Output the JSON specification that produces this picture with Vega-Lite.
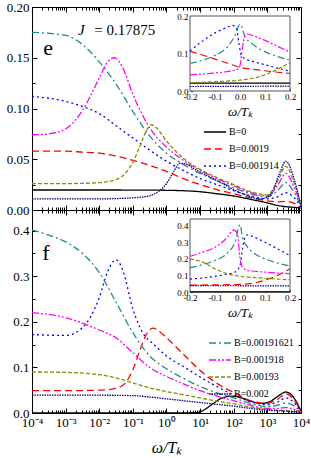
{
  "$schema": "https://vega.github.io/schema/vega-lite/v6.json",
  "padding": {"left": 5, "top": 0, "right": 0, "bottom": 0},
  "background": "white",
  "config": {
    "font": "Liberation Serif",
    "view": {"stroke": "#000", "strokeWidth": 1},
    "axis": {"grid": false, "domain": false, "tickColor": "#000", "tickWidth": 1, "labelColor": "#000", "labelFont": "Liberation Serif", "titleFont": "Liberation Serif", "labelFontSize": 13, "labelFlush": false, "labelOverlap": false, "titleColor": "#000", "titleFontWeight": "normal"},
    "legend": {"labelFont": "Liberation Serif", "labelFontSize": 10, "labelColor": "#000", "symbolType": "stroke", "symbolStrokeWidth": 1.5, "labelOffset": 2, "padding": 0}
  },
  "datasets": {
    "top": [
      {"B":"B=0","w":0.0001,"v":0.0197},{"B":"B=0","w":0.01,"v":0.0197},{"B":"B=0","w":0.316,"v":0.0196},{"B":"B=0","w":1,"v":0.0194},{"B":"B=0","w":3.16,"v":0.019},{"B":"B=0","w":10,"v":0.018},{"B":"B=0","w":31.6,"v":0.016},{"B":"B=0","w":100,"v":0.0138},{"B":"B=0","w":316,"v":0.0105},{"B":"B=0","w":1000,"v":0.007},{"B":"B=0","w":1995,"v":0.0045},{"B":"B=0","w":3548,"v":0.0033},{"B":"B=0","w":6310,"v":0.0026},{"B":"B=0","w":10000,"v":0.002},
      {"B":"B=0.0019","w":0.0001,"v":0.058},{"B":"B=0.0019","w":0.001,"v":0.058},{"B":"B=0.0019","w":0.00316,"v":0.057},{"B":"B=0.0019","w":0.01,"v":0.056},{"B":"B=0.0019","w":0.0316,"v":0.053},{"B":"B=0.0019","w":0.1,"v":0.049},{"B":"B=0.0019","w":0.316,"v":0.044},{"B":"B=0.0019","w":1,"v":0.038},{"B":"B=0.0019","w":3.16,"v":0.031},{"B":"B=0.0019","w":10,"v":0.025},{"B":"B=0.0019","w":31.6,"v":0.02},{"B":"B=0.0019","w":100,"v":0.016},{"B":"B=0.0019","w":316,"v":0.012},{"B":"B=0.0019","w":1000,"v":0.009},{"B":"B=0.0019","w":1995,"v":0.008},{"B":"B=0.0019","w":3548,"v":0.0085},{"B":"B=0.0019","w":6310,"v":0.0065},{"B":"B=0.0019","w":10000,"v":0.002},
      {"B":"B=0.001914","w":0.0001,"v":0.112},{"B":"B=0.001914","w":0.001,"v":0.107},{"B":"B=0.001914","w":0.00316,"v":0.102},{"B":"B=0.001914","w":0.01,"v":0.095},{"B":"B=0.001914","w":0.0316,"v":0.083},{"B":"B=0.001914","w":0.1,"v":0.071},{"B":"B=0.001914","w":0.316,"v":0.059},{"B":"B=0.001914","w":1,"v":0.048},{"B":"B=0.001914","w":3.16,"v":0.039},{"B":"B=0.001914","w":10,"v":0.031},{"B":"B=0.001914","w":31.6,"v":0.025},{"B":"B=0.001914","w":100,"v":0.019},{"B":"B=0.001914","w":316,"v":0.014},{"B":"B=0.001914","w":1000,"v":0.011},{"B":"B=0.001914","w":1995,"v":0.013},{"B":"B=0.001914","w":3548,"v":0.017},{"B":"B=0.001914","w":6310,"v":0.012},{"B":"B=0.001914","w":10000,"v":0.003},
      {"B":"B=0.00191621","w":0.0001,"v":0.175},{"B":"B=0.00191621","w":0.001,"v":0.172},{"B":"B=0.00191621","w":0.00316,"v":0.163},{"B":"B=0.00191621","w":0.01,"v":0.146},{"B":"B=0.00191621","w":0.0316,"v":0.124},{"B":"B=0.00191621","w":0.1,"v":0.097},{"B":"B=0.00191621","w":0.316,"v":0.073},{"B":"B=0.00191621","w":1,"v":0.056},{"B":"B=0.00191621","w":3.16,"v":0.045},{"B":"B=0.00191621","w":10,"v":0.036},{"B":"B=0.00191621","w":31.6,"v":0.029},{"B":"B=0.00191621","w":100,"v":0.022},{"B":"B=0.00191621","w":316,"v":0.016},{"B":"B=0.00191621","w":1000,"v":0.013},{"B":"B=0.00191621","w":1995,"v":0.019},{"B":"B=0.00191621","w":3548,"v":0.027},{"B":"B=0.00191621","w":6310,"v":0.017},{"B":"B=0.00191621","w":10000,"v":0.004},
      {"B":"B=0.001918","w":0.0001,"v":0.074},{"B":"B=0.001918","w":0.000316,"v":0.075},{"B":"B=0.001918","w":0.001,"v":0.08},{"B":"B=0.001918","w":0.00316,"v":0.098},{"B":"B=0.001918","w":0.01,"v":0.13},{"B":"B=0.001918","w":0.0178,"v":0.146},{"B":"B=0.001918","w":0.0282,"v":0.15},{"B":"B=0.001918","w":0.0501,"v":0.14},{"B":"B=0.001918","w":0.1,"v":0.114},{"B":"B=0.001918","w":0.316,"v":0.081},{"B":"B=0.001918","w":1,"v":0.062},{"B":"B=0.001918","w":3.16,"v":0.049},{"B":"B=0.001918","w":10,"v":0.039},{"B":"B=0.001918","w":31.6,"v":0.031},{"B":"B=0.001918","w":100,"v":0.024},{"B":"B=0.001918","w":316,"v":0.017},{"B":"B=0.001918","w":1000,"v":0.014},{"B":"B=0.001918","w":1995,"v":0.024},{"B":"B=0.001918","w":3548,"v":0.036},{"B":"B=0.001918","w":6310,"v":0.022},{"B":"B=0.001918","w":10000,"v":0.005},
      {"B":"B=0.00193","w":0.0001,"v":0.026},{"B":"B=0.00193","w":0.001,"v":0.026},{"B":"B=0.00193","w":0.01,"v":0.027},{"B":"B=0.00193","w":0.0316,"v":0.03},{"B":"B=0.00193","w":0.0631,"v":0.037},{"B":"B=0.00193","w":0.1,"v":0.047},{"B":"B=0.00193","w":0.158,"v":0.062},{"B":"B=0.00193","w":0.251,"v":0.078},{"B":"B=0.00193","w":0.355,"v":0.084},{"B":"B=0.00193","w":0.501,"v":0.081},{"B":"B=0.00193","w":1,"v":0.068},{"B":"B=0.00193","w":3.16,"v":0.051},{"B":"B=0.00193","w":10,"v":0.04},{"B":"B=0.00193","w":31.6,"v":0.032},{"B":"B=0.00193","w":100,"v":0.025},{"B":"B=0.00193","w":316,"v":0.018},{"B":"B=0.00193","w":1000,"v":0.015},{"B":"B=0.00193","w":1995,"v":0.028},{"B":"B=0.00193","w":3548,"v":0.043},{"B":"B=0.00193","w":6310,"v":0.026},{"B":"B=0.00193","w":10000,"v":0.005},
      {"B":"B=0.002","w":0.0001,"v":0.011},{"B":"B=0.002","w":0.001,"v":0.011},{"B":"B=0.002","w":0.01,"v":0.011},{"B":"B=0.002","w":0.1,"v":0.012},{"B":"B=0.002","w":0.316,"v":0.014},{"B":"B=0.002","w":0.562,"v":0.018},{"B":"B=0.002","w":1,"v":0.026},{"B":"B=0.002","w":1.58,"v":0.037},{"B":"B=0.002","w":2.51,"v":0.046},{"B":"B=0.002","w":3.98,"v":0.045},{"B":"B=0.002","w":6.31,"v":0.041},{"B":"B=0.002","w":31.6,"v":0.029},{"B":"B=0.002","w":158,"v":0.017},{"B":"B=0.002","w":631,"v":0.011},{"B":"B=0.002","w":1259,"v":0.015},{"B":"B=0.002","w":2239,"v":0.035},{"B":"B=0.002","w":3548,"v":0.048},{"B":"B=0.002","w":6310,"v":0.03},{"B":"B=0.002","w":10000,"v":0.004}
    ],
    "bottom": [
      {"B":"B=0","w":0.0001,"v":0},{"B":"B=0","w":1,"v":0},{"B":"B=0","w":3.16,"v":0.0002},{"B":"B=0","w":7.94,"v":0.001},{"B":"B=0","w":12.6,"v":0.006},{"B":"B=0","w":20,"v":0.016},{"B":"B=0","w":39.8,"v":0.031},{"B":"B=0","w":79.4,"v":0.037},{"B":"B=0","w":158,"v":0.034},{"B":"B=0","w":316,"v":0.026},{"B":"B=0","w":631,"v":0.021},{"B":"B=0","w":1122,"v":0.024},{"B":"B=0","w":1995,"v":0.036},{"B":"B=0","w":3548,"v":0.046},{"B":"B=0","w":6310,"v":0.032},{"B":"B=0","w":10000,"v":0.004},
      {"B":"B=0.0019","w":0.0001,"v":0.049},{"B":"B=0.0019","w":0.001,"v":0.049},{"B":"B=0.0019","w":0.01,"v":0.05},{"B":"B=0.0019","w":0.0316,"v":0.054},{"B":"B=0.0019","w":0.0631,"v":0.068},{"B":"B=0.0019","w":0.1,"v":0.095},{"B":"B=0.0019","w":0.158,"v":0.135},{"B":"B=0.0019","w":0.251,"v":0.172},{"B":"B=0.0019","w":0.398,"v":0.186},{"B":"B=0.0019","w":0.631,"v":0.178},{"B":"B=0.0019","w":1,"v":0.165},{"B":"B=0.0019","w":3.16,"v":0.129},{"B":"B=0.0019","w":10,"v":0.093},{"B":"B=0.0019","w":31.6,"v":0.065},{"B":"B=0.0019","w":100,"v":0.045},{"B":"B=0.0019","w":316,"v":0.027},{"B":"B=0.0019","w":1000,"v":0.021},{"B":"B=0.0019","w":1995,"v":0.03},{"B":"B=0.0019","w":3548,"v":0.042},{"B":"B=0.0019","w":6310,"v":0.028},{"B":"B=0.0019","w":10000,"v":0.003},
      {"B":"B=0.001914","w":0.0001,"v":0.172},{"B":"B=0.001914","w":0.001,"v":0.17},{"B":"B=0.001914","w":0.00316,"v":0.187},{"B":"B=0.001914","w":0.01,"v":0.253},{"B":"B=0.001914","w":0.0178,"v":0.31},{"B":"B=0.001914","w":0.0316,"v":0.336},{"B":"B=0.001914","w":0.0501,"v":0.313},{"B":"B=0.001914","w":0.1,"v":0.228},{"B":"B=0.001914","w":0.2,"v":0.175},{"B":"B=0.001914","w":0.398,"v":0.152},{"B":"B=0.001914","w":1,"v":0.125},{"B":"B=0.001914","w":3.16,"v":0.102},{"B":"B=0.001914","w":10,"v":0.079},{"B":"B=0.001914","w":31.6,"v":0.058},{"B":"B=0.001914","w":100,"v":0.04},{"B":"B=0.001914","w":316,"v":0.025},{"B":"B=0.001914","w":1000,"v":0.018},{"B":"B=0.001914","w":1995,"v":0.024},{"B":"B=0.001914","w":3548,"v":0.033},{"B":"B=0.001914","w":6310,"v":0.022},{"B":"B=0.001914","w":10000,"v":0.003},
      {"B":"B=0.00191621","w":0.0001,"v":0.401},{"B":"B=0.00191621","w":0.000316,"v":0.39},{"B":"B=0.00191621","w":0.001,"v":0.375},{"B":"B=0.00191621","w":0.00316,"v":0.35},{"B":"B=0.00191621","w":0.01,"v":0.308},{"B":"B=0.00191621","w":0.0316,"v":0.243},{"B":"B=0.00191621","w":0.1,"v":0.176},{"B":"B=0.00191621","w":0.316,"v":0.125},{"B":"B=0.00191621","w":1,"v":0.097},{"B":"B=0.00191621","w":3.16,"v":0.076},{"B":"B=0.00191621","w":10,"v":0.058},{"B":"B=0.00191621","w":31.6,"v":0.044},{"B":"B=0.00191621","w":100,"v":0.033},{"B":"B=0.00191621","w":316,"v":0.021},{"B":"B=0.00191621","w":1000,"v":0.014},{"B":"B=0.00191621","w":1995,"v":0.017},{"B":"B=0.00191621","w":3548,"v":0.022},{"B":"B=0.00191621","w":6310,"v":0.015},{"B":"B=0.00191621","w":10000,"v":0.002},
      {"B":"B=0.001918","w":0.0001,"v":0.22},{"B":"B=0.001918","w":0.001,"v":0.209},{"B":"B=0.001918","w":0.01,"v":0.182},{"B":"B=0.001918","w":0.0316,"v":0.165},{"B":"B=0.001918","w":0.1,"v":0.132},{"B":"B=0.001918","w":0.316,"v":0.1},{"B":"B=0.001918","w":1,"v":0.08},{"B":"B=0.001918","w":3.16,"v":0.064},{"B":"B=0.001918","w":10,"v":0.049},{"B":"B=0.001918","w":31.6,"v":0.037},{"B":"B=0.001918","w":100,"v":0.027},{"B":"B=0.001918","w":316,"v":0.017},{"B":"B=0.001918","w":1000,"v":0.01},{"B":"B=0.001918","w":1995,"v":0.01},{"B":"B=0.001918","w":3548,"v":0.012},{"B":"B=0.001918","w":6310,"v":0.008},{"B":"B=0.001918","w":10000,"v":0.002},
      {"B":"B=0.00193","w":0.0001,"v":0.09},{"B":"B=0.00193","w":0.001,"v":0.089},{"B":"B=0.00193","w":0.01,"v":0.084},{"B":"B=0.00193","w":0.0316,"v":0.077},{"B":"B=0.00193","w":0.1,"v":0.066},{"B":"B=0.00193","w":0.316,"v":0.055},{"B":"B=0.00193","w":1,"v":0.047},{"B":"B=0.00193","w":3.16,"v":0.04},{"B":"B=0.00193","w":10,"v":0.033},{"B":"B=0.00193","w":31.6,"v":0.026},{"B":"B=0.00193","w":100,"v":0.02},{"B":"B=0.00193","w":316,"v":0.013},{"B":"B=0.00193","w":1000,"v":0.008},{"B":"B=0.00193","w":3548,"v":0.005},{"B":"B=0.00193","w":10000,"v":0.001},
      {"B":"B=0.002","w":0.0001,"v":0.039},{"B":"B=0.002","w":0.01,"v":0.039},{"B":"B=0.002","w":0.1,"v":0.038},{"B":"B=0.002","w":0.316,"v":0.035},{"B":"B=0.002","w":1,"v":0.031},{"B":"B=0.002","w":3.16,"v":0.027},{"B":"B=0.002","w":10,"v":0.023},{"B":"B=0.002","w":31.6,"v":0.019},{"B":"B=0.002","w":100,"v":0.015},{"B":"B=0.002","w":316,"v":0.01},{"B":"B=0.002","w":1000,"v":0.006},{"B":"B=0.002","w":3548,"v":0.004},{"B":"B=0.002","w":10000,"v":0.001}
    ],
    "topInset": [
      {"B":"B=0","w":-0.2,"v":0.021},{"B":"B=0","w":0.2,"v":0.021},
      {"B":"B=0.0019","w":-0.2,"v":0.106},{"B":"B=0.0019","w":-0.15,"v":0.096},{"B":"B=0.0019","w":-0.1,"v":0.085},{"B":"B=0.0019","w":-0.05,"v":0.074},{"B":"B=0.0019","w":0,"v":0.063},{"B":"B=0.0019","w":0.05,"v":0.058},{"B":"B=0.0019","w":0.1,"v":0.054},{"B":"B=0.0019","w":0.15,"v":0.05},{"B":"B=0.0019","w":0.2,"v":0.047},
      {"B":"B=0.001914","w":-0.2,"v":0.107},{"B":"B=0.001914","w":-0.15,"v":0.133},{"B":"B=0.001914","w":-0.1,"v":0.155},{"B":"B=0.001914","w":-0.05,"v":0.17},{"B":"B=0.001914","w":-0.03,"v":0.175},{"B":"B=0.001914","w":-0.015,"v":0.168},{"B":"B=0.001914","w":-0.005,"v":0.13},{"B":"B=0.001914","w":0.005,"v":0.095},{"B":"B=0.001914","w":0.02,"v":0.086},{"B":"B=0.001914","w":0.05,"v":0.079},{"B":"B=0.001914","w":0.1,"v":0.07},{"B":"B=0.001914","w":0.15,"v":0.061},{"B":"B=0.001914","w":0.2,"v":0.053},
      {"B":"B=0.00191621","w":-0.2,"v":0.074},{"B":"B=0.00191621","w":-0.15,"v":0.082},{"B":"B=0.00191621","w":-0.1,"v":0.095},{"B":"B=0.00191621","w":-0.05,"v":0.118},{"B":"B=0.00191621","w":-0.02,"v":0.148},{"B":"B=0.00191621","w":0,"v":0.178},{"B":"B=0.00191621","w":0.02,"v":0.145},{"B":"B=0.00191621","w":0.05,"v":0.125},{"B":"B=0.00191621","w":0.1,"v":0.105},{"B":"B=0.00191621","w":0.15,"v":0.092},{"B":"B=0.00191621","w":0.2,"v":0.082},
      {"B":"B=0.001918","w":-0.2,"v":0.043},{"B":"B=0.001918","w":-0.1,"v":0.048},{"B":"B=0.001918","w":-0.05,"v":0.052},{"B":"B=0.001918","w":-0.01,"v":0.058},{"B":"B=0.001918","w":0,"v":0.068},{"B":"B=0.001918","w":0.01,"v":0.115},{"B":"B=0.001918","w":0.02,"v":0.148},{"B":"B=0.001918","w":0.03,"v":0.152},{"B":"B=0.001918","w":0.05,"v":0.148},{"B":"B=0.001918","w":0.1,"v":0.135},{"B":"B=0.001918","w":0.15,"v":0.119},{"B":"B=0.001918","w":0.2,"v":0.104},
      {"B":"B=0.00193","w":-0.2,"v":0.022},{"B":"B=0.00193","w":-0.1,"v":0.025},{"B":"B=0.00193","w":0,"v":0.029},{"B":"B=0.00193","w":0.05,"v":0.034},{"B":"B=0.00193","w":0.1,"v":0.043},{"B":"B=0.00193","w":0.15,"v":0.058},{"B":"B=0.00193","w":0.2,"v":0.076},
      {"B":"B=0.002","w":-0.2,"v":0.012},{"B":"B=0.002","w":0.2,"v":0.013}
    ],
    "bottomInset": [
      {"B":"B=0","w":-0.2,"v":0.001},{"B":"B=0","w":0.2,"v":0.001},
      {"B":"B=0.0019","w":-0.2,"v":0.042},{"B":"B=0.0019","w":-0.1,"v":0.043},{"B":"B=0.0019","w":0,"v":0.046},{"B":"B=0.0019","w":0.05,"v":0.052},{"B":"B=0.0019","w":0.1,"v":0.072},{"B":"B=0.0019","w":0.15,"v":0.1},{"B":"B=0.0019","w":0.2,"v":0.14},
      {"B":"B=0.001914","w":-0.2,"v":0.078},{"B":"B=0.001914","w":-0.1,"v":0.094},{"B":"B=0.001914","w":-0.05,"v":0.108},{"B":"B=0.001914","w":-0.02,"v":0.12},{"B":"B=0.001914","w":0,"v":0.16},{"B":"B=0.001914","w":0.01,"v":0.26},{"B":"B=0.001914","w":0.02,"v":0.33},{"B":"B=0.001914","w":0.03,"v":0.345},{"B":"B=0.001914","w":0.05,"v":0.335},{"B":"B=0.001914","w":0.1,"v":0.3},{"B":"B=0.001914","w":0.15,"v":0.26},{"B":"B=0.001914","w":0.2,"v":0.22},
      {"B":"B=0.00191621","w":-0.2,"v":0.147},{"B":"B=0.00191621","w":-0.15,"v":0.165},{"B":"B=0.00191621","w":-0.1,"v":0.19},{"B":"B=0.00191621","w":-0.05,"v":0.235},{"B":"B=0.00191621","w":-0.02,"v":0.3},{"B":"B=0.00191621","w":0,"v":0.405},{"B":"B=0.00191621","w":0.01,"v":0.33},{"B":"B=0.00191621","w":0.03,"v":0.27},{"B":"B=0.00191621","w":0.05,"v":0.24},{"B":"B=0.00191621","w":0.1,"v":0.2},{"B":"B=0.00191621","w":0.15,"v":0.175},{"B":"B=0.00191621","w":0.2,"v":0.157},
      {"B":"B=0.001918","w":-0.2,"v":0.215},{"B":"B=0.001918","w":-0.15,"v":0.24},{"B":"B=0.001918","w":-0.1,"v":0.27},{"B":"B=0.001918","w":-0.05,"v":0.33},{"B":"B=0.001918","w":-0.025,"v":0.375},{"B":"B=0.001918","w":-0.01,"v":0.35},{"B":"B=0.001918","w":0,"v":0.2},{"B":"B=0.001918","w":0.01,"v":0.15},{"B":"B=0.001918","w":0.03,"v":0.13},{"B":"B=0.001918","w":0.1,"v":0.12},{"B":"B=0.001918","w":0.2,"v":0.11},
      {"B":"B=0.00193","w":-0.2,"v":0.2},{"B":"B=0.00193","w":-0.15,"v":0.18},{"B":"B=0.00193","w":-0.1,"v":0.14},{"B":"B=0.00193","w":-0.05,"v":0.11},{"B":"B=0.00193","w":0,"v":0.094},{"B":"B=0.00193","w":0.05,"v":0.088},{"B":"B=0.00193","w":0.1,"v":0.083},{"B":"B=0.00193","w":0.15,"v":0.078},{"B":"B=0.00193","w":0.2,"v":0.074},
      {"B":"B=0.002","w":-0.2,"v":0.038},{"B":"B=0.002","w":0.2,"v":0.037}
    ]
  },
  "spacing": 0,
  "bounds": "flush",
  "resolve": {"scale": {"color": "independent", "strokeDash": "independent"}, "legend": {"color": "independent", "strokeDash": "independent"}},
  "vconcat": [
    {
      "width": 269, "height": 203,
      "resolve": {"scale": {"x": "independent", "y": "independent"}},
      "layer": [
        {
          "resolve": {"axis": {"x": "independent", "y": "independent"}},
          "layer": [
            {
              "data": {"name": "top"},
              "mark": {"type": "line", "interpolate": "monotone", "strokeWidth": 1.3},
              "encoding": {
                "x": {"field": "w", "type": "quantitative", "scale": {"type": "log", "domain": [0.0001, 10000], "nice": false}, "axis": {"orient": "bottom", "values": [0.0001,0.001,0.01,0.1,1,10,100,1000,10000], "labels": false, "tickSize": -5, "title": null}},
                "y": {"field": "v", "type": "quantitative", "scale": {"domain": [0, 0.2], "nice": false}, "axis": {"orient": "left", "values": [0,0.05,0.1,0.15,0.2], "format": ".2f", "tickSize": -5, "labelPadding": 8, "title": null}},
                "color": {"field": "B", "type": "nominal", "scale": {"domain": ["B=0","B=0.0019","B=0.001914","B=0.00191621","B=0.001918","B=0.00193","B=0.002"], "range": ["#000000","#ff0000","#0000ff","#1f8a8a","#ff00ff","#8c8c00","#00008b"]}, "legend": {"values": ["B=0","B=0.0019","B=0.001914"], "orient": "none", "legendX": 171, "legendY": 113, "title": null, "symbolSize": 484, "rowPadding": -3.5}},
                "strokeDash": {"field": "B", "type": "nominal", "scale": {"domain": ["B=0","B=0.0019","B=0.001914","B=0.00191621","B=0.001918","B=0.00193","B=0.002"], "range": [[1,0],[7,4],[2,3],[7,3,2,3],[7,2,2,2,2,2],[4,2],[1.5,1]]}, "legend": {"values": ["B=0","B=0.0019","B=0.001914"], "orient": "none", "legendX": 171, "legendY": 113, "title": null, "symbolSize": 484, "rowPadding": -3.5}}
              }
            },
            {
              "data": {"values": [{}]},
              "mark": {"type": "text", "fontSize": 22, "align": "center", "baseline": "middle"},
              "encoding": {
                "x": {"datum": 0.0003, "type": "quantitative", "axis": {"orient": "top", "values": [0.0001,0.001,0.01,0.1,1,10,100,1000,10000], "labels": false, "tickSize": -5, "title": null}},
                "y": {"datum": 0.16, "type": "quantitative", "axis": {"orient": "right", "values": [0,0.05,0.1,0.15,0.2], "labels": false, "tickSize": -5, "title": null}},
                "text": {"value": "e"}
              }
            },
            {
              "data": {"values": [{}]},
              "mark": {"type": "text", "fontSize": 15, "fontStyle": "italic", "align": "left", "baseline": "middle"},
              "encoding": {
                "x": {"datum": 0.00235, "type": "quantitative", "axis": {"orient": "bottom", "values": [0.0002,0.0003,0.0004,0.0005,0.0006,0.0007,0.0008,0.0009,0.002,0.003,0.004,0.005,0.006,0.007,0.008,0.009,0.02,0.03,0.04,0.05,0.06,0.07,0.08,0.09,0.2,0.3,0.4,0.5,0.6,0.7,0.8,0.9,2,3,4,5,6,7,8,9,20,30,40,50,60,70,80,90,200,300,400,500,600,700,800,900,2000,3000,4000,5000,6000,7000,8000,9000], "labels": false, "tickSize": -3, "title": null}},
                "y": {"datum": 0.177, "type": "quantitative", "axis": {"orient": "left", "values": [0.025,0.075,0.125,0.175], "labels": false, "tickSize": -3, "title": null}},
                "text": {"value": "J"}
              }
            },
            {
              "data": {"values": [{}]},
              "mark": {"type": "text", "fontSize": 15, "align": "left", "baseline": "middle"},
              "encoding": {
                "x": {"datum": 0.0071, "type": "quantitative", "axis": {"orient": "top", "values": [0.0002,0.0003,0.0004,0.0005,0.0006,0.0007,0.0008,0.0009,0.002,0.003,0.004,0.005,0.006,0.007,0.008,0.009,0.02,0.03,0.04,0.05,0.06,0.07,0.08,0.09,0.2,0.3,0.4,0.5,0.6,0.7,0.8,0.9,2,3,4,5,6,7,8,9,20,30,40,50,60,70,80,90,200,300,400,500,600,700,800,900,2000,3000,4000,5000,6000,7000,8000,9000], "labels": false, "tickSize": -3, "title": null}},
                "y": {"datum": 0.177, "type": "quantitative", "axis": {"orient": "right", "values": [0.025,0.075,0.125,0.175], "labels": false, "tickSize": -3, "title": null}},
                "text": {"value": "= 0.17875"}
              }
            }
          ]
        },
        {
          "layer": [
            {
              "data": {"values": [{}]},
              "mark": {"type": "rect", "fill": "white", "stroke": "#555555", "strokeWidth": 1},
              "encoding": {
                "x": {"datum": -0.2, "type": "quantitative", "scale": {"domain": [-0.2, 0.2], "range": [158, 258], "nice": false, "zero": false}, "axis": {"orient": "bottom", "offset": -119, "values": [-0.2,-0.1,0,0.1,0.2], "labelExpr": "replace(format(datum.value, '.1f'), '−', '-')", "labelFontSize": 9, "labelPadding": 4.5, "tickSize": -3, "tickColor": "#555555", "title": "ω/Tₖ", "titleFontSize": 13, "titleFontStyle": "italic", "titlePadding": 4}},
                "x2": {"datum": 0.2},
                "y": {"datum": 0, "type": "quantitative", "scale": {"domain": [0, 0.2], "range": [84, 9], "nice": false}, "axis": {"orient": "left", "offset": -158, "values": [0,0.1,0.2], "format": ".1f", "labelFontSize": 9, "labelPadding": 5, "tickSize": -3, "tickColor": "#555555", "title": null}},
                "y2": {"datum": 0.2}
              }
            },
            {
              "data": {"name": "topInset"},
              "mark": {"type": "line", "interpolate": "monotone", "strokeWidth": 1.2},
              "encoding": {
                "x": {"field": "w", "type": "quantitative"},
                "y": {"field": "v", "type": "quantitative"},
                "color": {"field": "B", "type": "nominal"},
                "strokeDash": {"field": "B", "type": "nominal"}
              }
            }
          ]
        }
      ]
    },
    {
      "width": 269, "height": 203,
      "resolve": {"scale": {"x": "independent", "y": "independent"}},
      "layer": [
        {
          "resolve": {"axis": {"x": "independent", "y": "independent"}},
          "layer": [
            {
              "data": {"name": "bottom"},
              "mark": {"type": "line", "interpolate": "monotone", "strokeWidth": 1.3},
              "encoding": {
                "x": {"field": "w", "type": "quantitative", "scale": {"type": "log", "domain": [0.0001, 10000], "nice": false}, "axis": {"orient": "bottom", "values": [0.0001,0.001,0.01,0.1,1,10,100,1000,10000], "labelExpr": "'10' + ['⁻⁴','⁻³','⁻²','⁻¹','⁰','¹','²','³','⁴'][round(log(datum.value)/LN10)+4]", "labelPadding": 8, "tickSize": -5, "title": "ω/Tₖ", "titleFontSize": 16, "titleFontStyle": "italic", "titlePadding": 10}},
                "y": {"field": "v", "type": "quantitative", "scale": {"domain": [0, 0.445], "nice": false}, "axis": {"orient": "left", "values": [0,0.1,0.2,0.3,0.4], "format": ".1f", "tickSize": -5, "labelPadding": 8, "title": null}},
                "color": {"field": "B", "type": "nominal", "scale": {"domain": ["B=0","B=0.0019","B=0.001914","B=0.00191621","B=0.001918","B=0.00193","B=0.002"], "range": ["#000000","#ff0000","#0000ff","#1f8a8a","#ff00ff","#8c8c00","#00008b"]}, "legend": {"values": ["B=0.00191621","B=0.001918","B=0.00193","B=0.002"], "orient": "none", "legendX": 176, "legendY": 121, "title": null, "symbolSize": 484, "rowPadding": -4}},
                "strokeDash": {"field": "B", "type": "nominal", "scale": {"domain": ["B=0","B=0.0019","B=0.001914","B=0.00191621","B=0.001918","B=0.00193","B=0.002"], "range": [[1,0],[7,4],[2,3],[7,3,2,3],[7,2,2,2,2,2],[4,2],[1.5,1]]}, "legend": {"values": ["B=0.00191621","B=0.001918","B=0.00193","B=0.002"], "orient": "none", "legendX": 176, "legendY": 121, "title": null, "symbolSize": 484, "rowPadding": -4}}
              }
            },
            {
              "data": {"values": [{}]},
              "mark": {"type": "text", "fontSize": 22, "align": "center", "baseline": "middle"},
              "encoding": {
                "x": {"datum": 0.00026, "type": "quantitative", "axis": {"orient": "top", "values": [0.0001,0.001,0.01,0.1,1,10,100,1000,10000], "labels": false, "tickSize": -5, "title": null}},
                "y": {"datum": 0.351, "type": "quantitative", "axis": {"orient": "right", "values": [0,0.1,0.2,0.3,0.4], "labels": false, "tickSize": -5, "title": null}},
                "text": {"value": "f"}
              }
            },
            {
              "data": {"values": [{}]},
              "mark": {"type": "text"},
              "encoding": {
                "x": {"datum": 1, "type": "quantitative", "axis": {"orient": "bottom", "values": [0.0002,0.0003,0.0004,0.0005,0.0006,0.0007,0.0008,0.0009,0.002,0.003,0.004,0.005,0.006,0.007,0.008,0.009,0.02,0.03,0.04,0.05,0.06,0.07,0.08,0.09,0.2,0.3,0.4,0.5,0.6,0.7,0.8,0.9,2,3,4,5,6,7,8,9,20,30,40,50,60,70,80,90,200,300,400,500,600,700,800,900,2000,3000,4000,5000,6000,7000,8000,9000], "labels": false, "tickSize": -3, "title": null}},
                "y": {"datum": 0.1, "type": "quantitative", "axis": {"orient": "left", "values": [0.05,0.15,0.25,0.35], "labels": false, "tickSize": -3, "title": null}},
                "text": {"value": ""}
              }
            },
            {
              "data": {"values": [{}]},
              "mark": {"type": "text"},
              "encoding": {
                "x": {"datum": 1, "type": "quantitative", "axis": {"orient": "top", "values": [0.0002,0.0003,0.0004,0.0005,0.0006,0.0007,0.0008,0.0009,0.002,0.003,0.004,0.005,0.006,0.007,0.008,0.009,0.02,0.03,0.04,0.05,0.06,0.07,0.08,0.09,0.2,0.3,0.4,0.5,0.6,0.7,0.8,0.9,2,3,4,5,6,7,8,9,20,30,40,50,60,70,80,90,200,300,400,500,600,700,800,900,2000,3000,4000,5000,6000,7000,8000,9000], "labels": false, "tickSize": -3, "title": null}},
                "y": {"datum": 0.1, "type": "quantitative", "axis": {"orient": "right", "values": [0.05,0.15,0.25,0.35], "labels": false, "tickSize": -3, "title": null}},
                "text": {"value": ""}
              }
            }
          ]
        },
        {
          "layer": [
            {
              "data": {"values": [{}]},
              "mark": {"type": "rect", "fill": "white", "stroke": "#555555", "strokeWidth": 1},
              "encoding": {
                "x": {"datum": -0.2, "type": "quantitative", "scale": {"domain": [-0.2, 0.2], "range": [158, 258], "nice": false, "zero": false}, "axis": {"orient": "bottom", "offset": -121, "values": [-0.2,-0.1,0,0.1,0.2], "labelExpr": "replace(format(datum.value, '.1f'), '−', '-')", "labelFontSize": 9, "labelPadding": 4.5, "tickSize": -3, "tickColor": "#555555", "title": "ω/Tₖ", "titleFontSize": 13, "titleFontStyle": "italic", "titlePadding": 4}},
                "x2": {"datum": 0.2},
                "y": {"datum": 0, "type": "quantitative", "scale": {"domain": [0, 0.44], "range": [82, 9], "nice": false}, "axis": {"orient": "left", "offset": -158, "values": [0,0.1,0.2,0.3,0.4], "format": ".1f", "labelFontSize": 9, "labelPadding": 5, "tickSize": -3, "tickColor": "#555555", "title": null}},
                "y2": {"datum": 0.44}
              }
            },
            {
              "data": {"name": "bottomInset"},
              "mark": {"type": "line", "interpolate": "monotone", "strokeWidth": 1.2},
              "encoding": {
                "x": {"field": "w", "type": "quantitative"},
                "y": {"field": "v", "type": "quantitative"},
                "color": {"field": "B", "type": "nominal"},
                "strokeDash": {"field": "B", "type": "nominal"}
              }
            }
          ]
        }
      ]
    }
  ]
}
